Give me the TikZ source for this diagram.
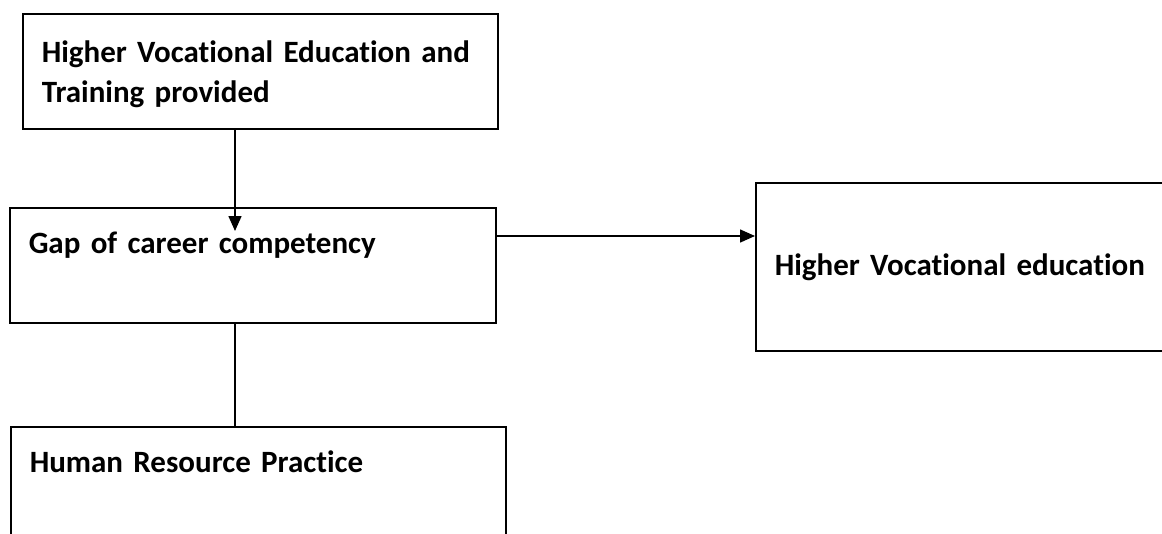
\documentclass[tikz,border=0pt]{standalone}
\usepackage{fontspec}
\setmainfont{Carlito}[Ligatures=NoCommon]
\usetikzlibrary{arrows.meta}

\begin{document}
\begin{tikzpicture}[
  x=1pt, y=-1pt,
  boxnode/.style={shape=rectangle, draw=black, line width=1.5, anchor=north west,
    inner xsep=19pt, inner ysep=24pt, align=left,
    font=\fontsize{31}{40}\selectfont\bfseries},
  arrowline/.style={draw=black, line width=1.5, -{Triangle[length=15pt,width=13pt]}},
  plainline/.style={draw=black, line width=1.5},
]
\useasboundingbox (0,0) rectangle (1162,533);
%%%boxes
\node[boxnode, text width=437pt, text height=25pt, text depth=42pt] (hvet) at (22,13)
  {Higher Vocational Education and\\Training provided};
\node[boxnode, text width=448pt, text height=22pt, text depth=45pt] (gap) at (9,207)
  {Gap of career competency};
\node[boxnode, text width=400pt, text height=69pt, text depth=51pt] (hve) at (755,182)
  {Higher Vocational education};
\node[boxnode, text width=457pt, text height=22pt, text depth=90pt] (hrp) at (10,426)
  {Human Resource Practice};
%%%%%%%%%
\coordinate (spine) at (235,0);
\coordinate (side) at (0,236);

\draw[arrowline] (hvet.south -| spine) -- ([yshift=-24pt]gap.north -| spine);
\draw[arrowline] (gap.east |- side) -- (hve.west |- side);
\draw[plainline] (gap.south -| spine) -- (hrp.north -| spine);

\end{tikzpicture}
\end{document}
